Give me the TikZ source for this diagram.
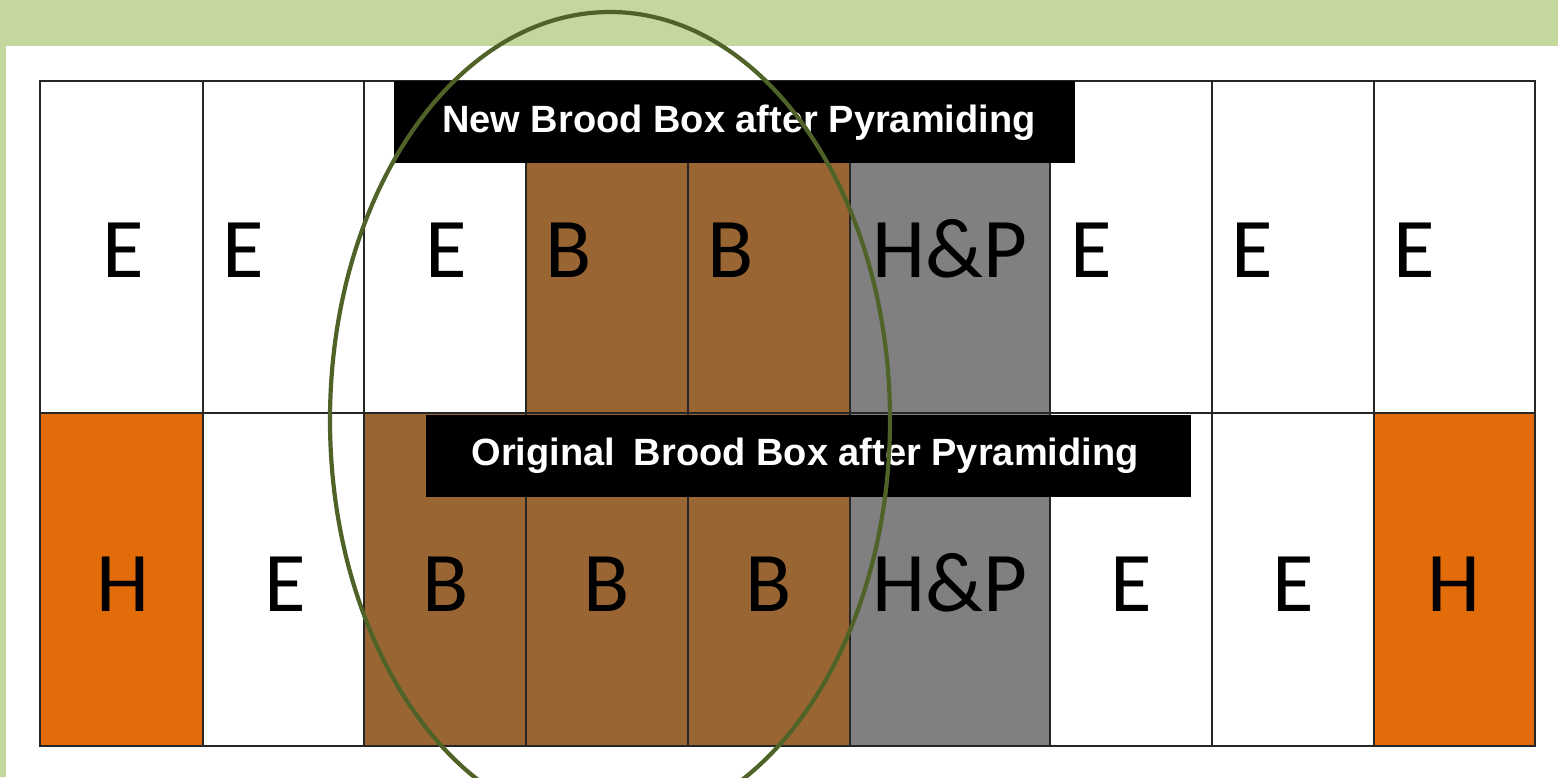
\documentclass[tikz,border=0pt]{standalone}
\usepackage{fontspec}
\setmainfont{Carlito}
\newfontfamily\labfont{Liberation Sans}
\definecolor{bggreen}{HTML}{C4D79D}
\definecolor{brood}{HTML}{996633}
\definecolor{honey}{HTML}{E36C0A}
\definecolor{hpgray}{HTML}{808080}
\definecolor{olive}{HTML}{4F6228}
\tikzset{
  gridline/.style={line width=1.6pt, draw=black!85},
  letter/.style={inner sep=0pt, anchor=base, font=\fontsize{85}{100}\selectfont},
  labelbox/.style={fill=black, draw=none},
  labeltext/.style={inner sep=0pt, anchor=base, text=white, font=\labfont\bfseries\fontsize{38}{44}\selectfont},
  ring/.style={draw=olive, line width=4.2pt}
}
\begin{document}
\begin{tikzpicture}[x=1pt,y=-1pt]
\useasboundingbox (0,0) rectangle (1558,777);
% background
\fill[bggreen] (0,0) rectangle (1558,777);
\fill[white] (6,46) rectangle (1558,777);
% cell fills
\fill[brood] (526,163) rectangle (850,413);
\fill[hpgray] (850,163) rectangle (1050,413);
\fill[honey] (40,413) rectangle (203,746);
\fill[brood] (364,413) rectangle (850,746);
\fill[hpgray] (850,413) rectangle (1050,746);
\fill[honey] (1374,413) rectangle (1535,746);
% grid
\draw[gridline] (40,81) rectangle (1535,746);
\draw[gridline] (40,413) -- (1535,413);
\foreach \x in {203,364,526,688,850,1050,1212,1374}
  \draw[gridline] (\x,81) -- (\x,746);
% label boxes
\fill[labelbox] (394,81) rectangle (1075,163);
\fill[labelbox] (426,415) rectangle (1191,497);
\node[labeltext] (newlab) at (739,132) {New Brood Box after Pyramiding};
\node[labeltext] (origlab) at (805,465) {Original\hspace{0.22em} Brood Box after Pyramiding};
% top row letters
\node[letter] (t1) at (123,277) {E};
\node[letter] (t2) at (243,277) {E};
\node[letter] (t3) at (446,277) {E};
\node[letter] (t4) at (569,277) {B};
\node[letter] (t5) at (731,277) {B};
\node[letter] (t6) at (950,277) {H\&P};
\node[letter] (t7) at (1091,277) {E};
\node[letter] (t8) at (1252,277) {E};
\node[letter] (t9) at (1414,277) {E};
% bottom row letters
\node[letter] (b1) at (123,611) {H};
\node[letter] (b2) at (285,611) {E};
\node[letter] (b3) at (446,611) {B};
\node[letter] (b4) at (607,611) {B};
\node[letter] (b5) at (769,611) {B};
\node[letter] (b6) at (950,611) {H\&P};
\node[letter] (b7) at (1131,611) {E};
\node[letter] (b8) at (1293,611) {E};
\node[letter] (b9) at (1454,611) {H};
% ellipse
\draw[ring] (610,420) ellipse [x radius=280, y radius=408];
\end{tikzpicture}
\end{document}
